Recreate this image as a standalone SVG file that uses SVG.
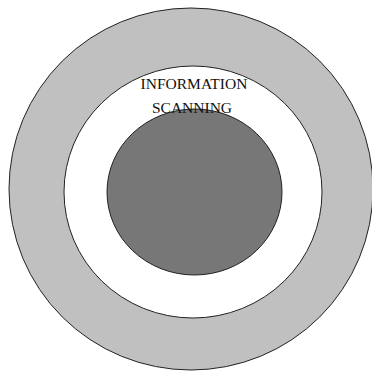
<svg xmlns="http://www.w3.org/2000/svg" width="372" height="372" viewBox="0 0 372 372">
<style>
.ring{stroke:#222;stroke-width:1}
.lbl{font-family:"Liberation Serif","Times New Roman",serif;font-size:15.5px;fill:#111;text-anchor:middle}
</style>
<rect width="372" height="372" fill="#fff"/>
<g id="outer"><ellipse class="ring" cx="191" cy="189" rx="182" ry="181" fill="#c0c0c0"/></g>
<g id="middle"><ellipse class="ring" cx="193" cy="192" rx="129" ry="126" fill="#fff"/></g>
<g id="inner"><ellipse class="ring" cx="194.5" cy="192" rx="87.5" ry="83" fill="#777"/></g>
<g id="label">
<text class="lbl" x="194" y="89">INFORMATION</text>
<text class="lbl" x="192" y="113">SCANNING</text>
</g>
</svg>
